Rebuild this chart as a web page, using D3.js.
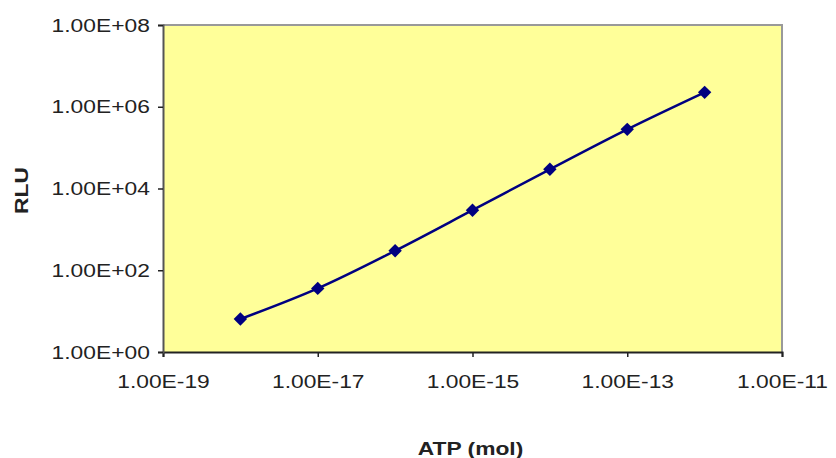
<!DOCTYPE html>
<html>
<head>
<meta charset="utf-8">
<script src="https://cdn.jsdelivr.net/npm/d3@7"></script>
<style>
  body { margin: 0; background: #fff; }
  text { font-family: Arial, "Liberation Sans", sans-serif; }
</style>
</head>
<body>
<div id="chart"></div>
<script>
var width = 836;
var height = 458;

// data
var atp = [1e-18, 1e-17, 1e-16, 1e-15, 1e-14, 1e-13, 1e-12];
var rlu = [6.4, 36, 300, 2950, 29500, 2.8e5, 2.25e6];
var xTicks = [1e-19, 1e-17, 1e-15, 1e-13, 1e-11];
var yTicks = [1e0, 1e2, 1e4, 1e6, 1e8];

var pLeft = 163, pRight = 782, pTop = 25, pBottom = 352;
var stretch = 1.2; // labels look a bit wide in the original

function fmt(v) {
  var e = Math.round(Math.log10(v));
  var s = Math.abs(e) < 10 ? "0" + Math.abs(e) : "" + Math.abs(e);
  return "1.00E" + (e < 0 ? "-" : "+") + s;
}

var svg = d3.select('#chart').append('svg')
    .attr('width', width)
    .attr('height', height);

var x = d3.scaleLog().domain([1e-19, 1e-11]).range([pLeft, pRight]);
var y = d3.scaleLog().domain([1e0, 1e8]).range([pBottom, pTop]);

// plot area
svg.append('rect')
    .attr('x', pLeft).attr('y', pTop)
    .attr('width', pRight - pLeft).attr('height', pBottom - pTop)
    .attr('fill', '#ffff99');
// gray frame top/right
svg.append('path')
    .attr('d', 'M' + pLeft + ',' + pTop + 'H' + pRight + 'V' + pBottom)
    .attr('fill', 'none').attr('stroke', '#999').attr('stroke-width', 2);

var xAxis = svg.append('g')
    .attr('transform', 'translate(0,' + pBottom + ')')
    .call(d3.axisBottom(x).tickValues(xTicks).tickFormat(fmt).tickSize(5).tickPadding(18));
var yAxis = svg.append('g')
    .attr('transform', 'translate(' + pLeft + ',0)')
    .call(d3.axisLeft(y).tickValues(yTicks).tickFormat(fmt).tickSize(5).tickPadding(6));

[xAxis, yAxis].forEach(function(a) {
  a.select('.domain').attr('stroke', '#222').attr('stroke-width', 2);
  a.selectAll('.tick line').attr('stroke', '#222').attr('stroke-width', 1.5);
  a.selectAll('.tick text')
    .attr('fill', '#222')
    .style('font-size', '19px')
    .attr('transform', 'scale(' + stretch + ',1)');
});
yAxis.select('.domain').attr('stroke', '#555');

// line + markers
var pts = atp.map(function(d, i) { return [d, rlu[i]]; });
var line = d3.line()
    .x(function(d) { return x(d[0]); })
    .y(function(d) { return y(d[1]); })
    .curve(d3.curveCatmullRom);

svg.append('path')
    .datum(pts)
    .attr('d', line)
    .attr('fill', 'none')
    .attr('stroke', '#000080')
    .attr('stroke-width', 2.5);

svg.append('g').selectAll('path')
    .data(pts)
    .enter()
  .append('path')
    .attr('d', d3.symbol().type(d3.symbolSquare).size(90))
    .attr('transform', function(d) { return 'translate(' + x(d[0]) + ',' + y(d[1]) + ') rotate(45)'; })
    .attr('fill', '#000080');

// axis titles
svg.append('text')
    .attr('transform', 'translate(' + ((pLeft + pRight) / 2 - 2) + ',455) scale(' + stretch + ',1)')
    .attr('text-anchor', 'middle')
    .style('font-size', '19px')
    .style('font-weight', 'bold')
    .attr('fill', '#222')
    .text('ATP (mol)');

svg.append('text')
    .attr('transform', 'translate(28,' + ((pTop + pBottom) / 2 + 2) + ') rotate(-90) scale(' + stretch + ',1)')
    .attr('text-anchor', 'middle')
    .style('font-size', '19px')
    .style('font-weight', 'bold')
    .attr('fill', '#222')
    .text('RLU');
</script>
</body>
</html>
